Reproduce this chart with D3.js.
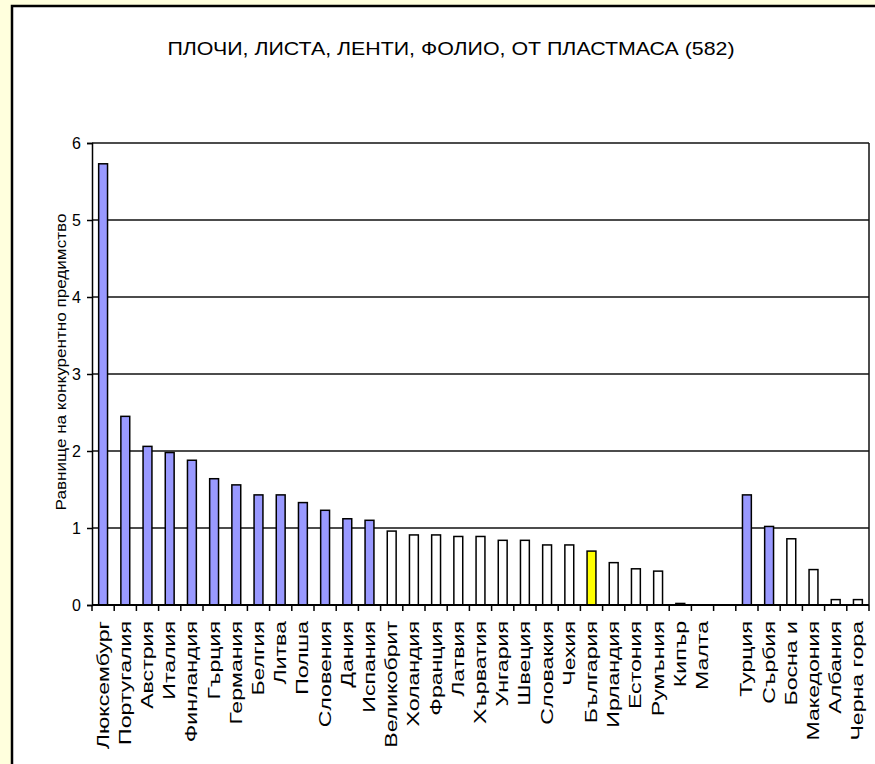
<!DOCTYPE html>
<html>
<head>
<meta charset="utf-8">
<script src="https://cdn.jsdelivr.net/npm/d3@7"></script>
<style>
  html, body { margin: 0; padding: 0; background: #ffffff; }
  svg { display: block; }
  text { font-family: "Liberation Sans", Arial, sans-serif; fill: #000; }
</style>
</head>
<body>
<svg id="chart" width="875" height="764"></svg>
<script>
const title = "ПЛОЧИ, ЛИСТА, ЛЕНТИ, ФОЛИО, ОТ ПЛАСТМАСА (582)";
const yAxisLabel = "Равнище на конкурентно предимство";
const countries = ["Люксембург","Португалия","Австрия","Италия","Финландия","Гърция","Германия","Белгия","Литва","Полша","Словения","Дания","Испания","Великобрит","Холандия","Франция","Латвия","Хърватия","Унгария","Швеция","Словакия","Чехия","България","Ирландия","Естония","Румъния","Кипър","Малта","","Турция","Сърбия","Босна и","Македония","Албания","Черна гора"];
const values = [5.73,2.45,2.06,1.98,1.88,1.64,1.56,1.43,1.43,1.33,1.23,1.12,1.10,0.96,0.91,0.91,0.89,0.89,0.84,0.84,0.78,0.78,0.70,0.55,0.47,0.44,0.02,0,null,1.43,1.02,0.86,0.46,0.07,0.07];
const yTicks = [0,1,2,3,4,5,6];
const highlight = "България";

const svg = d3.select("#chart");
const W = 875, H = 764;

// outer frame
svg.append("rect").attr("x",0).attr("y",0).attr("width",W).attr("height",H).attr("fill","#ffffdd");
svg.append("rect").attr("x",12).attr("y",6).attr("width",W+20).attr("height",H+20)
  .attr("fill","#ffffff").attr("stroke","#000").attr("stroke-width",2.5);

const m = {left: 92, right: 869, top: 143, bottom: 605};
const idx = countries.map((c,i)=>i);
const x = d3.scaleBand().domain(idx).range([m.left, m.right]).paddingInner(0.6).paddingOuter(0.3);
const y = d3.scaleLinear().domain([0,6]).range([m.bottom, m.top]);

// gridlines
svg.append("g").selectAll("line").data(yTicks.filter(t=>t>0)).join("line")
  .attr("x1",m.left).attr("x2",m.right)
  .attr("y1",d=>y(d)).attr("y2",d=>y(d))
  .attr("stroke","#111").attr("stroke-width",1.3);

// right border
svg.append("line").attr("x1",m.right).attr("x2",m.right).attr("y1",m.top).attr("y2",m.bottom)
  .attr("stroke","#111").attr("stroke-width",1.5);

// bars
svg.append("g").selectAll("rect").data(idx.filter(i=>values[i]!==null)).join("rect")
  .attr("x",i=>x(i)).attr("width",x.bandwidth())
  .attr("y",i=>y(values[i])).attr("height",i=>y(0)-y(values[i]))
  .attr("fill",i=>countries[i]===highlight ? "#ffff00" : (values[i]>1 ? "#9999ff" : "#ffffff"))
  .attr("stroke","#000").attr("stroke-width",1.5);

// y axis
const yAxis = d3.axisLeft(y).tickValues(yTicks).tickSize(5).tickPadding(6).tickFormat(d3.format("d"));
const gy = svg.append("g").attr("transform",`translate(${m.left},0)`).call(yAxis);
gy.select(".domain").attr("stroke","#000").attr("stroke-width",1.5);
gy.selectAll(".tick line").attr("stroke","#000").attr("stroke-width",1.5);
gy.selectAll(".tick text").style("font-size","16px").style("font-family","Liberation Sans, Arial, sans-serif").attr("fill","#000");

// x axis: ticks at slot boundaries
const step = x.step();
const bounds = d3.range(countries.length+1).map(i=>m.left + i*step);
const gx = svg.append("g");
gx.append("line").attr("x1",m.left).attr("x2",m.right).attr("y1",m.bottom).attr("y2",m.bottom)
  .attr("stroke","#000").attr("stroke-width",2);
gx.selectAll("line.t").data(bounds).join("line").attr("class","t")
  .attr("x1",d=>d).attr("x2",d=>d).attr("y1",m.bottom).attr("y2",m.bottom+6)
  .attr("stroke","#000").attr("stroke-width",1.5);
gx.selectAll("text").data(idx.filter(i=>countries[i]!=="")).join("text")
  .attr("transform",i=>`translate(${x(i)+x.bandwidth()/2+5.5},${m.bottom+16}) rotate(-90) scale(1.36,1)`)
  .attr("text-anchor","end")
  .style("font-size","17px")
  .text(i=>countries[i]);

// y label
svg.append("text").attr("transform",`translate(66,362) rotate(-90) scale(1.14,1)`)
  .attr("text-anchor","middle").style("font-size","15px").text(yAxisLabel);

// title
svg.append("text").attr("x",451).attr("y",55).attr("text-anchor","middle")
  .style("font-size","19px").attr("textLength",567).attr("lengthAdjust","spacingAndGlyphs").text(title);
</script>
</body>
</html>
